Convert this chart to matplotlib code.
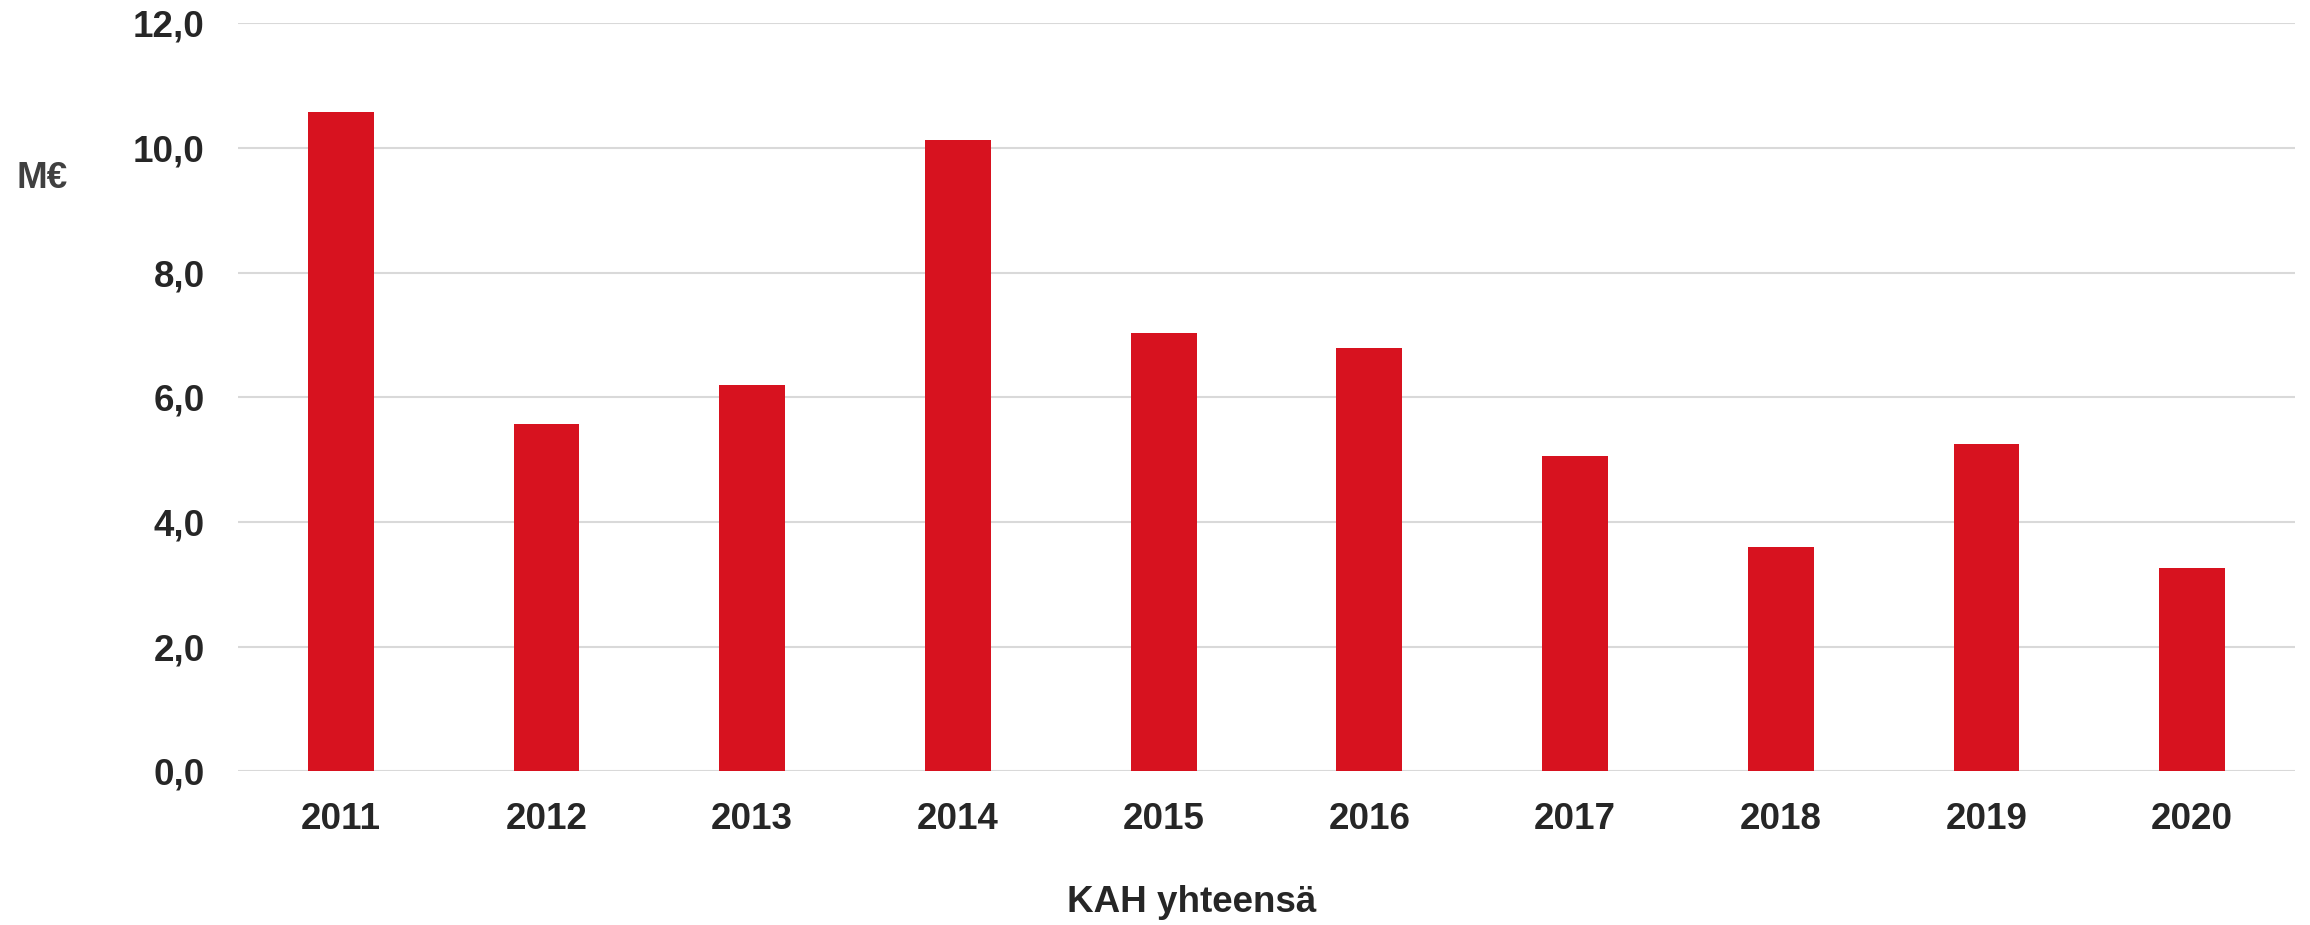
import matplotlib
matplotlib.use("Agg")
import matplotlib.pyplot as plt
import numpy as np

# data
years = ["2011", "2012", "2013", "2014", "2015", "2016", "2017", "2018", "2019", "2020"]
kah_total = [10.58, 5.57, 6.20, 10.13, 7.04, 6.80, 5.06, 3.60, 5.25, 3.26]
y_ticks = [0, 2, 4, 6, 8, 10, 12]
y_tick_labels = ["0,0", "2,0", "4,0", "6,0", "8,0", "10,0", "12,0"]

plt.rcParams['font.family'] = ['Liberation Sans', 'DejaVu Sans']

fig = plt.figure(figsize=(23.1, 9.25), dpi=100)
ax = fig.add_axes([0.103, 0.1662, 0.8905, 0.8084])

x = np.arange(len(years))
ax.bar(x, kah_total, width=0.32, color='#d7121f', zorder=3)

ax.set_xlim(-0.5, len(years) - 0.5)
ax.set_ylim(0, 12)
ax.set_yticks(y_ticks)
ax.set_yticklabels(y_tick_labels)
ax.set_xticks(x)
ax.set_xticklabels(years)

ax.grid(axis='y', color='#d9d9d9', linewidth=1.5, zorder=0)
ax.set_axisbelow(True)
for s in ax.spines.values():
    s.set_visible(False)

ax.tick_params(axis='both', length=0, labelsize=26.5, labelcolor='#262626')
ax.tick_params(axis='y', pad=24)
ax.tick_params(axis='x', pad=22)
for lbl in ax.get_xticklabels() + ax.get_yticklabels():
    lbl.set_fontweight('bold')

fig.text(42 / 2310, 1 - 179 / 925, "M€", fontsize=26.5, fontweight='bold',
         color='#404040', ha='center', va='center')
fig.text(1192 / 2310, 1 - 903 / 925, "KAH yhteensä", fontsize=26.5, fontweight='bold',
         color='#262626', ha='center', va='center')

fig.savefig("out.png", dpi=100)
